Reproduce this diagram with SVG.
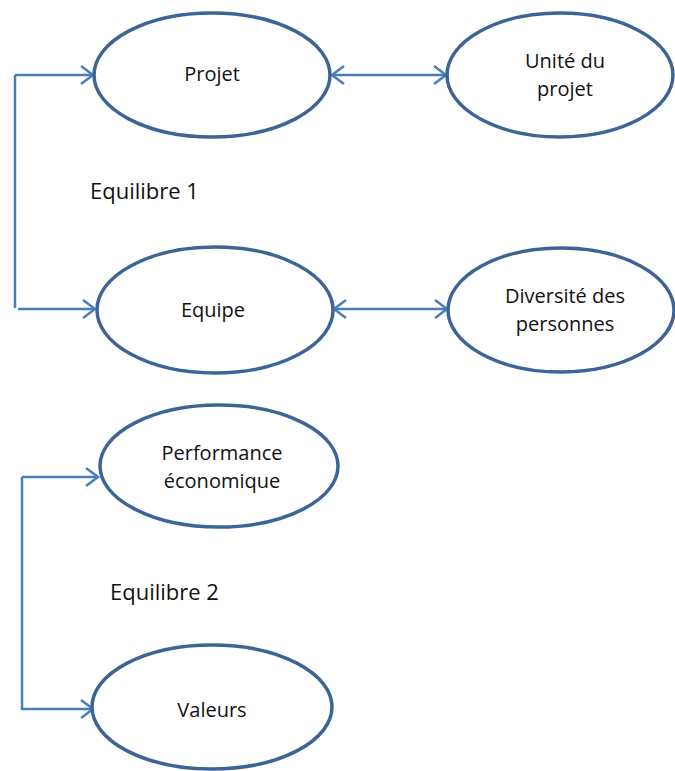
<svg xmlns="http://www.w3.org/2000/svg" width="675" height="771" viewBox="0 0 675 771">
<style>
.node ellipse{fill:#fff;stroke:#3c6596;stroke-width:3.5}
.node text,.lbl{font-family:"Open Sans","Liberation Sans",sans-serif;font-size:20px;fill:#111;text-anchor:middle}
.lbl{text-anchor:start;font-size:22px}
.conn{fill:none;stroke:#4a7ebb;stroke-width:2.5}
</style>
<defs>
<marker id="ah" markerUnits="userSpaceOnUse" markerWidth="16" markerHeight="20" refX="13" refY="10" orient="auto-start-reverse">
<path d="M1,1 L13,10 L1,19" fill="none" stroke="#4a7ebb" stroke-width="2.5"/>
</marker>
</defs>
<rect width="675" height="771" fill="#fff"/>
<g id="connectors">
<path class="conn" d="M15,75 V308"/>
<path class="conn" d="M15,75 H93" marker-end="url(#ah)"/>
<path class="conn" d="M18,309 H95" marker-end="url(#ah)"/>
<path class="conn" d="M332,75 H446" marker-start="url(#ah)" marker-end="url(#ah)"/>
<path class="conn" d="M334,309 H447" marker-start="url(#ah)" marker-end="url(#ah)"/>
<path class="conn" d="M22,477 V710"/>
<path class="conn" d="M22,477 H98" marker-end="url(#ah)"/>
<path class="conn" d="M22,709 H93" marker-end="url(#ah)"/>
</g>
<g id="projet" class="node"><ellipse cx="212" cy="75" rx="118" ry="62"/><text x="212" y="81">Projet</text></g>
<g id="unite" class="node"><ellipse cx="560" cy="75" rx="113" ry="62"/><text x="565" y="68">Unité du</text><text x="565" y="96">projet</text></g>
<g id="equipe" class="node"><ellipse cx="215" cy="310" rx="118" ry="63"/><text x="213" y="317">Equipe</text></g>
<g id="diversite" class="node"><ellipse cx="561" cy="310" rx="113" ry="62"/><text x="565" y="303">Diversité des</text><text x="565" y="331">personnes</text></g>
<g id="performance" class="node"><ellipse cx="219" cy="466" rx="119" ry="61"/><text x="222" y="460">Performance</text><text x="222" y="488">économique</text></g>
<g id="valeurs" class="node"><ellipse cx="212" cy="707" rx="120" ry="62"/><text x="212" y="717">Valeurs</text></g>
<text id="eq1" class="lbl" x="90" y="199">Equilibre 1</text>
<text id="eq2" class="lbl" x="110" y="600">Equilibre 2</text>
</svg>
